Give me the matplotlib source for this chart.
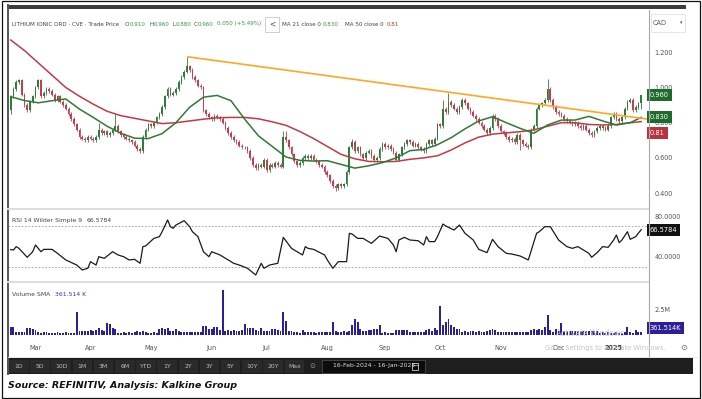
import numpy as np
import pandas as pd
import matplotlib
matplotlib.use('Agg')
from matplotlib import pyplot as plt
from matplotlib.patches import Rectangle
import matplotlib.transforms as mtransforms

plt.rcParams['font.family'] = ['Liberation Sans Narrow', 'DejaVu Sans']

W, H = 702, 399

# TSX-V trading days, 16-Feb-2024 .. 16-Jan-2025
holidays = ['2024-02-19', '2024-03-29', '2024-05-20', '2024-07-01', '2024-08-05',
            '2024-09-02', '2024-10-14', '2024-12-25', '2024-12-26', '2025-01-01']
dates = pd.bdate_range('2024-02-16', '2025-01-16', freq='C', holidays=holidays)

# daily closes, month by month
close_feb = [0.95, 0.99, 1.03, 1.04, 0.96, 0.90, 0.87, 0.92, 0.95]
close_mar = [1.00, 1.04, 0.95, 0.97, 0.99, 0.98, 0.96, 0.93, 0.95, 0.92,
             0.90, 0.88, 0.85, 0.82, 0.79, 0.76, 0.72, 0.71, 0.70, 0.72]
close_apr = [0.71, 0.70, 0.72, 0.76, 0.74, 0.75, 0.73, 0.74, 0.76, 0.78, 0.75,
             0.73, 0.72, 0.71, 0.70, 0.69, 0.67, 0.65, 0.64, 0.72, 0.76, 0.79]
close_may = [0.78, 0.80, 0.83, 0.85, 0.89, 0.95, 0.99, 0.96, 0.97, 0.99, 1.03,
             1.06, 1.09, 1.12, 1.10, 1.06, 1.04, 1.01, 1.00, 0.87, 0.85, 0.83]
close_jun = [0.82, 0.84, 0.83, 0.82, 0.80, 0.77, 0.74, 0.72, 0.70, 0.69,
             0.67, 0.66, 0.66, 0.64, 0.60, 0.56, 0.54, 0.56, 0.55, 0.59]
close_jul = [0.53, 0.56, 0.55, 0.57, 0.56, 0.55, 0.72, 0.70, 0.66, 0.62, 0.58,
             0.56, 0.57, 0.60, 0.61, 0.60, 0.61, 0.59, 0.58, 0.56, 0.55, 0.52]
close_aug = [0.50, 0.47, 0.44, 0.43, 0.45, 0.44, 0.45, 0.52, 0.66, 0.69, 0.64,
             0.66, 0.62, 0.60, 0.63, 0.64, 0.61, 0.59, 0.60, 0.65, 0.68]
close_sep = [0.66, 0.67, 0.65, 0.63, 0.59, 0.62, 0.66, 0.68, 0.70, 0.69,
             0.67, 0.68, 0.66, 0.65, 0.64, 0.68, 0.70, 0.68, 0.71, 0.79]
close_oct = [0.78, 0.88, 0.86, 0.92, 0.90, 0.88, 0.86, 0.89, 0.93, 0.91, 0.88,
             0.86, 0.84, 0.82, 0.80, 0.78, 0.76, 0.74, 0.77, 0.84, 0.82, 0.78]
close_nov = [0.75, 0.74, 0.72, 0.70, 0.71, 0.69, 0.73, 0.70, 0.68, 0.67, 0.66,
             0.76, 0.78, 0.88, 0.90, 0.91, 0.93, 0.99, 0.93, 0.89, 0.86]
close_dec = [0.85, 0.84, 0.82, 0.81, 0.80, 0.79, 0.80, 0.78, 0.77, 0.78,
             0.76, 0.74, 0.73, 0.75, 0.77, 0.78, 0.77, 0.76, 0.78, 0.83]
close_jan = [0.85, 0.82, 0.81, 0.83, 0.88, 0.92, 0.93, 0.87, 0.89, 0.91, 0.96]
first_open = 0.87

# notable wicks (trading-day number -> price)
wick_hi = {32: 0.80, 38: 0.85, 64: 1.175, 99: 0.75, 100: 0.75, 124: 0.71,
           157: 0.93, 159: 0.97, 195: 1.05, 229: 0.96}
wick_lo = {0: 0.85, 47: 0.625, 118: 0.41, 185: 0.645, 229: 0.88}

# daily volume, thousands
vol_feb = [830, 800, 300, 260, 320, 290, 740, 700, 560]
vol_mar = [520, 280, 230, 260, 300, 220, 250, 240, 270, 210,
           230, 260, 250, 240, 220, 2300, 400, 420, 380, 450]
vol_apr = [460, 430, 470, 700, 550, 450, 1170, 1150, 700, 650, 250,
           230, 270, 240, 260, 250, 350, 380, 330, 360, 340, 250]
vol_may = [240, 260, 250, 650, 700, 620, 660, 400, 420, 650, 400,
           300, 320, 280, 310, 290, 300, 330, 280, 900, 880, 600]
vol_jun = [620, 800, 780, 550, 4500, 450, 470, 430, 460, 440,
           450, 500, 1100, 700, 720, 680, 550, 450, 700, 400]
vol_jul = [420, 380, 650, 640, 500, 420, 2270, 1450, 420, 380, 280,
           300, 250, 500, 280, 260, 300, 290, 250, 280, 300, 270]
vol_aug = [300, 260, 1330, 380, 350, 330, 360, 340, 380, 1000, 1600,
           1300, 650, 400, 420, 500, 550, 650, 640, 1000, 250]
vol_sep = [260, 240, 250, 230, 500, 520, 480, 510, 490, 300,
           280, 320, 300, 290, 310, 550, 560, 450, 750, 500]
vol_oct = [2900, 1000, 1350, 1600, 1000, 800, 650, 650, 350, 400, 330,
           450, 360, 340, 420, 350, 330, 360, 550, 560, 540, 300]
vol_nov = [320, 290, 300, 310, 280, 300, 330, 290, 300, 280, 310,
           550, 560, 540, 650, 500, 800, 2000, 500, 350, 650]
vol_dec = [450, 1230, 450, 420, 440, 400, 420, 380, 450, 400,
           430, 410, 390, 420, 400, 250, 260, 240, 270, 250]
vol_jan = [240, 260, 250, 230, 270, 830, 300, 250, 550, 300, 350]
vol_sma_k = 361.514

# moving averages read every 5 trading days
ma_days = list(range(0, 230, 5)) + [229]
ma21 = [0.948, 0.926, 0.913, 0.925, 0.935, 0.877, 0.83, 0.78, 0.74, 0.712,
        0.71, 0.738, 0.80, 0.888, 0.945, 0.955, 0.925, 0.82, 0.725, 0.665,
        0.605, 0.586, 0.582, 0.584, 0.563, 0.542, 0.555, 0.573, 0.60, 0.641,
        0.648, 0.675, 0.715, 0.765, 0.81, 0.834, 0.80, 0.768, 0.74, 0.787,
        0.815, 0.815, 0.836, 0.81, 0.787, 0.80, 0.83]
ma50 = [1.27, 1.21, 1.14, 1.07, 1.00, 0.95, 0.905, 0.865, 0.84, 0.825,
        0.81, 0.795, 0.80, 0.81, 0.82, 0.828, 0.83, 0.83, 0.822, 0.805,
        0.785, 0.75, 0.71, 0.665, 0.62, 0.595, 0.58, 0.578, 0.58, 0.592,
        0.60, 0.612, 0.645, 0.685, 0.718, 0.735, 0.742, 0.749, 0.759, 0.78,
        0.80, 0.80, 0.79, 0.787, 0.79, 0.80, 0.806]

# RSI 14 (trading-day number, value)
rsi_days = [0, 1, 2, 3, 6, 8, 9, 11, 12, 15, 17, 20, 24, 26, 28, 29, 31, 32, 34,
            37, 39, 41, 43, 45, 47, 48, 49, 52, 54, 55, 57, 58, 59, 60, 63, 65,
            66, 68, 70, 72, 73, 76, 79, 81, 83, 86, 89, 91, 92, 94, 97, 99, 102,
            104, 106, 107, 108, 110, 114, 115, 117, 119, 122, 123, 124, 126, 128,
            131, 134, 137, 139, 140, 141, 143, 145, 148, 150, 151, 152, 154, 155,
            157, 158, 161, 163, 165, 168, 170, 173, 175, 177, 180, 182, 185, 188,
            191, 192, 194, 196, 199, 202, 204, 206, 208, 210, 211, 213, 215, 217,
            219, 220, 221, 222, 224, 225, 227, 229]
rsi_vals = [47.0, 46.6, 49.9, 48.2, 39.4, 44.9, 51.5, 44.9, 47.2, 47.2, 43.3,
            36.8, 31.8, 26.9, 28.6, 35.1, 31.8, 40.0, 38.4, 44.9, 41.7, 40.0,
            36.8, 37.4, 33.5, 49.9, 50.5, 58.0, 59.7, 64.6, 76.1, 69.5, 67.9,
            71.1, 75.4, 69.5, 64.6, 59.7, 44.9, 40.0, 44.9, 41.7, 36.8, 33.5,
            31.8, 28.6, 22.0, 33.5, 28.6, 31.8, 33.5, 59.0, 48.2, 44.9, 41.7,
            49.9, 48.2, 47.2, 41.7, 36.8, 28.6, 35.1, 35.1, 63.0, 62.3, 58.0,
            58.0, 53.1, 60.3, 58.0, 51.5, 44.9, 56.4, 59.0, 56.4, 55.7, 51.5,
            59.7, 54.8, 54.8, 59.7, 72.1, 70.2, 66.2, 71.1, 63.0, 56.4, 47.2,
            44.0, 57.1, 49.9, 43.3, 42.6, 40.7, 36.8, 63.0, 64.6, 69.5, 69.5,
            56.4, 49.9, 48.2, 49.9, 46.6, 43.3, 39.4, 44.0, 49.9, 49.2, 56.4,
            61.3, 53.8, 56.4, 64.6, 57.1, 59.7, 66.5784]

# resistance trendline drawn on the chart
trend_days = [64, 231.5]
trend_vals = [1.175, 0.82]

price_ticks = [0.4, 0.6, 0.8, 1.0, 1.2]
rsi_ticks = [40, 80]
rsi_bands = [30, 70]
vol_ticks_m = [2.5]
periods = ['1D', '5D', '10D', '1M', '3M', '6M', 'YTD', '1Y', '2Y', '3Y', '5Y', '10Y', '20Y', 'Max']

closes = (close_feb + close_mar + close_apr + close_may + close_jun + close_jul +
          close_aug + close_sep + close_oct + close_nov + close_dec + close_jan)
volume = np.array(vol_feb + vol_mar + vol_apr + vol_may + vol_jun + vol_jul +
                  vol_aug + vol_sep + vol_oct + vol_nov + vol_dec + vol_jan) / 1000.0

n = len(closes)
x = np.arange(n)
c = np.array(closes)
o = np.r_[first_open, c[:-1]]
hi = np.maximum(o, c) + 0.01
lo = np.minimum(o, c) - 0.01
for k, v in wick_hi.items():
    hi[k] = v
for k, v in wick_lo.items():
    lo[k] = v

GREEN = '#2f7d3a'
RED = '#cc3b4c'
cols = np.where(c >= o, GREEN, RED)
FS = 4.4   # small chart text

fig = plt.figure(figsize=(W / 100, H / 100), dpi=100)
fig.patch.set_facecolor('white')


def box(x0, y0, x1, y1):
    return [x0 / W, 1 - y1 / H, (x1 - x0) / W, (y1 - y0) / H]


XL = (-0.98, 231.47)
ax_p = fig.add_axes(box(8, 12, 648, 208))
ax_r = fig.add_axes(box(8, 210, 648, 281))
ax_v = fig.add_axes(box(8, 283, 648, 337))
for a in (ax_p, ax_r, ax_v):
    a.set_xlim(*XL)
    for s in a.spines.values():
        s.set_visible(False)
    a.set_xticks([])
    a.yaxis.tick_right()
    a.tick_params(axis='y', length=0, pad=4.5, labelsize=FS + 0.3, labelcolor='#555555')
    a.patch.set_alpha(0)

# price panel
ax_p.set_ylim(0.3153, 1.429)
ax_p.vlines(x, lo, hi, colors=cols, lw=0.6, zorder=2)
ax_p.bar(x, np.maximum(np.abs(c - o), 0.004), bottom=np.minimum(o, c), width=0.62,
         color=cols, linewidth=0, zorder=3)
ax_p.plot(ma_days, ma50, color='#c23a44', lw=1.1, zorder=4)
ax_p.plot(ma_days, ma21, color='#2e7a34', lw=1.1, zorder=5)
ax_p.plot(trend_days, trend_vals, color='#ffa622', lw=1.2, zorder=6, solid_capstyle='butt')
ax_p.set_yticks(price_ticks)
ax_p.set_yticklabels(['%.3f' % t for t in price_ticks])

# RSI panel
ax_r.set_ylim(16.1, 85.9)
for b in rsi_bands:
    ax_r.axhline(b, color='#999999', lw=0.6, ls=(0, (2, 2)))
ax_r.plot(rsi_days, rsi_vals, color='#1a1a1a', lw=0.9)
ax_r.set_yticks(rsi_ticks)
ax_r.set_yticklabels(['%.4f' % t for t in rsi_ticks])

# volume panel
ax_v.set_ylim(-0.2, 5.2)
ax_v.bar(x, volume, width=0.7, color='#2b1f9c', linewidth=0)
ax_v.set_yticks(vol_ticks_m)
ax_v.set_yticklabels(['%gM' % t for t in vol_ticks_m])

# month axis
starts = [i for i in range(1, n) if dates[i].month != dates[i - 1].month]
ax_v.set_xticks(starts)
ax_v.set_xticklabels(['2025' if dates[i].year == 2025 else dates[i].strftime('%b') for i in starts])
ax_v.tick_params(axis='x', length=0, pad=5.6, labelsize=FS + 0.3, labelcolor='#555555')
for lab in ax_v.get_xticklabels():
    if lab.get_text() == '2025':
        lab.set_fontweight('bold')
        lab.set_color('#333333')

# overlay in pixel coordinates
ov = fig.add_axes([0, 0, 1, 1], zorder=10)
ov.set_xlim(0, W)
ov.set_ylim(H, 0)
ov.axis('off')
ov.patch.set_alpha(0)


def rect(x0, y0, x1, y1, fc='none', ec='none', lw=0.8, **kw):
    ov.add_patch(Rectangle((x0, y0), x1 - x0, y1 - y0, facecolor=fc, edgecolor=ec, lw=lw, **kw))


# frames
rect(1.5, 1, 699.5, 397.5, ec='#111111', lw=0.9)
rect(7, 5, 686, 9, fc='#3c3c3c')
ov.plot([7.5, 7.5], [5, 374], color='#555555', lw=1.4)
ov.plot([648.5, 648.5], [10, 357], color='#a8a8a8', lw=0.8)
ov.plot([8, 648], [208.5, 208.5], color='#dddddd', lw=1.4)
ov.plot([8, 648], [281.5, 281.5], color='#dddddd', lw=1.4)
ov.plot([8, 697], [357, 357], color='#e4e4e4', lw=0.6)

renderer = fig.canvas.get_renderer()


def row(x0, y, parts, size=FS):
    for s, col, gap in parts:
        t = ov.text(x0, y, s, color=col, fontsize=size, va='center', ha='left')
        x0 += t.get_window_extent(renderer).width + gap
    return x0


TXT = '#444444'
VAL = '#3a9447'
last_o, last_c = o[-1], c[-1]
chg = last_c - last_o
row(12.5, 24, [('LITHIUM IONIC ORD · CVE · Trade Price', TXT, 0)], size=4.1)
row(125, 24, [('O', TXT, 0), ('%.3f' % last_o, VAL, 0)], size=4.1)
row(149, 24, [('H', TXT, 0), ('%.3f' % hi[-1], VAL, 0)], size=4.1)
row(172.5, 24, [('L', TXT, 0), ('%.3f' % lo[-1], VAL, 0)], size=4.1)
row(194, 24, [('C', TXT, 0), ('%.3f' % last_c, VAL, 0)], size=4.1)
row(217, 24, [('%.3f (+%.2f%%)' % (chg, 100 * chg / last_o), VAL, 0)], size=4.1)
rect(265, 16.5, 279, 31.5, fc='white', ec='#cfcfcf', lw=0.7)
ov.text(272, 24, '<', fontsize=5.5, color='#555555', ha='center', va='center')
row(282.5, 24, [('MA 21 close 0', TXT, 3)], size=4.1)
row(323, 24, [('%.3f' % ma21[-1], VAL, 0)], size=4.1)
row(345, 24, [('MA 50 close 0', TXT, 3), ('%.2f' % ma50[-1], '#c0392b', 0)], size=4.1)

rect(651, 14, 685, 32, fc='white', ec='#e2e2e2', lw=0.6)
ov.text(653, 23, 'CAD', fontsize=FS + 0.3, color='#555555', va='center')
ov.text(681, 23, '▾', fontsize=3.5, color='#555555', va='center', ha='center',
        family='DejaVu Sans')

row(12.5, 220.5, [('RSI 14 Wilder Simple 9', TXT, 4), ('%.4f' % rsi_vals[-1], TXT, 0)])
row(12.5, 294.5, [('Volume SMA', TXT, 4.5), ('%.3f K' % vol_sma_k, '#3b34b0', 0)])

# last-value tags on the right scale
tr_p = mtransforms.blended_transform_factory(ax_p.transAxes, ax_p.transData)
tr_r = mtransforms.blended_transform_factory(ax_r.transAxes, ax_r.transData)
tr_v = mtransforms.blended_transform_factory(ax_v.transAxes, ax_v.transData)


def tag(ax, tr, yv, s, fc):
    ax.text(1.0 + 1.8 / 640, yv, s, transform=tr, fontsize=FS + 0.4, color='white',
            ha='left', va='center', clip_on=False, zorder=20,
            bbox=dict(boxstyle='square,pad=0.45', fc=fc, ec='none'))


tag(ax_p, tr_p, c[-1], '%.3f' % c[-1], '#1f6b2b')
tag(ax_p, tr_p, ma21[-1], '%.3f' % ma21[-1], '#1f6b2b')
tag(ax_p, tr_p, ma21[-1] - 0.087, '%.2f' % ma50[-1], '#b8323f')
tag(ax_r, tr_r, rsi_vals[-1], '%.4f' % rsi_vals[-1], '#111111')
tag(ax_v, tr_v, vol_sma_k / 1000 + 0.3, '%.3fK' % vol_sma_k, '#2c1f99')

# windows watermark
ov.text(556, 333, 'Activate Windows', fontsize=5.5, color='#c8c8c8', va='center', zorder=30)
ov.text(545, 348, 'Go to Settings to activate Windows.', fontsize=4.9, color='#c4c4c4',
        va='center', zorder=30)
ov.text(684, 348, '⊙', fontsize=6, color='#666666', ha='center', va='center',
        family='DejaVu Sans')

# period toolbar
rect(7, 358, 693, 374, fc='#1e1e1e')
bx = 9
for p in periods:
    rect(bx, 359.5, bx + 19.5, 372.5, fc='#2a2a2a')
    ov.text(bx + 9.75, 366, p, fontsize=FS, color='#bdbdbd', ha='center', va='center')
    bx += 21.2
ov.text(bx + 7, 366, '⊙', fontsize=5, color='#9a9a9a', ha='center', va='center',
        family='DejaVu Sans')
rect(322, 359.5, 425, 372.5, fc='#0c0c0c', ec='#4a4a4a', lw=0.6)
ov.text(333, 366, '%s - %s' % (dates[0].strftime('%d-%b-%Y'), dates[-1].strftime('%d-%b-%Y')),
        fontsize=FS, color='#dddddd', va='center')
rect(412, 362.5, 418, 369.5, ec='#cccccc', lw=0.6)
ov.plot([412, 418], [364.5, 364.5], color='#cccccc', lw=0.5)

ov.text(8, 386, 'Source: REFINITIV, Analysis: Kalkine Group', fontsize=6.8,
        fontweight='bold', fontstyle='italic', color='#111111', va='center')

fig.savefig('out.png', dpi=100)
